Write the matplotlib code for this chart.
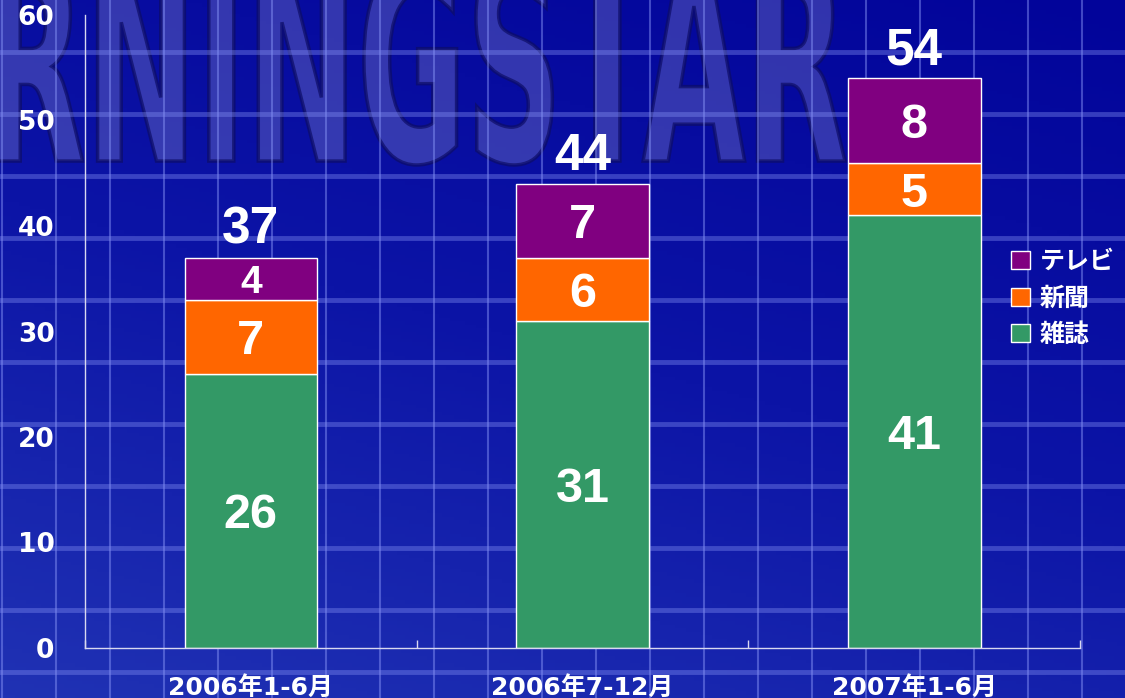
import numpy as np
import matplotlib
matplotlib.use("Agg")
import matplotlib.pyplot as plt
from matplotlib.textpath import TextPath
from matplotlib.patches import PathPatch, Patch
from matplotlib.font_manager import FontProperties
from matplotlib.transforms import Affine2D
from matplotlib.colors import LinearSegmentedColormap

# data
periods = ["2006年1-6月", "2006年7-12月", "2007年1-6月"]
zasshi = np.array([26, 31, 41])    # 雑誌
shinbun = np.array([7, 6, 5])      # 新聞
terebi = np.array([4, 7, 8])       # テレビ
yticks = [0, 10, 20, 30, 40, 50, 60]

c_zasshi, c_shinbun, c_terebi = "#339966", "#ff6600", "#800080"
cjk = ["DejaVu Sans", "Noto Sans CJK JP"]

W, H = 1125, 698
fig = plt.figure(figsize=(W / 100, H / 100), dpi=100)

### background: gradient, watermark, grid
bg = fig.add_axes([0, 0, 1, 1])
bg.set_xlim(0, W)
bg.set_ylim(0, H)
bg.axis("off")
yy, xx = np.mgrid[0:1:200j, 0:1:300j]
val = 0.7 * (1 - yy) + 0.3 * (1 - xx)
cm_bg = LinearSegmentedColormap.from_list("bg", ["#02049a", "#0c14a6", "#2032b4"])
bg.imshow(val, cmap=cm_bg, extent=[0, W, 0, H], origin="lower", aspect="auto", zorder=0)

fp = FontProperties(family="DejaVu Sans", weight="bold")
tp = TextPath((0, 0), "MORNINGSTAR", size=100, prop=fp)
ext = tp.get_extents()
tr = Affine2D().translate(-ext.x0, -ext.y0).scale(1095 / ext.width, 210 / ext.height).translate(-250, 533)
bg.add_patch(PathPatch(tr.transform_path(tp), fc=(0.58, 0.58, 0.82, 0.32),
                       ec=(0.05, 0.05, 0.4, 0.7), lw=2.5, zorder=1))

for xv in np.arange(2, W, 54):
    bg.axvline(xv, color=(0.55, 0.6, 0.98), alpha=0.45, lw=1.5, zorder=2)
for yv in np.arange(52, H, 62):
    bg.axhline(H - yv, color=(0.5, 0.55, 0.95), alpha=0.4, lw=3.5, zorder=2)

### chart
ax = fig.add_axes([85 / W, 50 / H, 995 / W, 633 / H])
ax.set_facecolor("none")
x = np.arange(len(periods))
bw = 0.4
ax.bar(x, zasshi, bw, color=c_zasshi, edgecolor="white", lw=1, label="雑誌")
ax.bar(x, shinbun, bw, bottom=zasshi, color=c_shinbun, edgecolor="white", lw=1, label="新聞")
ax.bar(x, terebi, bw, bottom=zasshi + shinbun, color=c_terebi, edgecolor="white", lw=1, label="テレビ")

bottoms = [np.zeros(3), zasshi, zasshi + shinbun]
for vals, bot in zip([zasshi, shinbun, terebi], bottoms):
    for xi, v, b in zip(x, vals, bot):
        fs = 28 if v < 5 else 35
        ax.annotate(str(v), (xi, b + v / 2), xytext=(0, -0.36 * fs), textcoords="offset points",
                    ha="center", va="baseline", color="white", fontsize=fs,
                    fontfamily="Liberation Sans", fontweight="bold")

totals = zasshi + shinbun + terebi
for xi, t in zip(x, totals):
    ax.annotate(str(t), (xi, t), xytext=(0, 10), textcoords="offset points",
                ha="center", va="baseline", color="white", fontsize=37,
                fontfamily="Liberation Sans", fontweight="bold")

ax.set_xlim(-0.5, 2.5)
ax.set_ylim(0, 60)
ax.set_yticks(yticks)
ax.set_yticklabels([str(v) for v in yticks], color="white", fontsize=19,
                   fontfamily="DejaVu Sans", fontweight="bold")
ax.tick_params(axis="y", length=0, pad=22)
ax.set_xticks([-0.5, 0.5, 1.5, 2.5])
ax.set_xticklabels([])
ax.tick_params(axis="x", which="major", direction="in", length=6, color="#d8d8f0", width=1)
ax.set_xticks(x, minor=True)
ax.set_xticklabels(periods, minor=True, color="white", fontsize=18, fontfamily=cjk, fontweight="bold")
ax.tick_params(axis="x", which="minor", length=0, pad=20)
for s in ["top", "right"]:
    ax.spines[s].set_visible(False)
for s in ["left", "bottom"]:
    ax.spines[s].set_color("#d8d8f0")
    ax.spines[s].set_linewidth(1)

handles = [Patch(fc=c_terebi, ec="white", lw=1, label="テレビ"),
           Patch(fc=c_shinbun, ec="white", lw=1, label="新聞"),
           Patch(fc=c_zasshi, ec="white", lw=1, label="雑誌")]
fig.legend(handles=handles, loc="upper left", bbox_to_anchor=(1011 / W, 1 - 250 / H),
           frameon=False, borderpad=0, borderaxespad=0, handlelength=0.75, handleheight=0.75,
           handletextpad=0.4, labelspacing=0.5, labelcolor="white",
           prop=FontProperties(family="Noto Sans CJK JP", weight="bold", size=18))

fig.savefig("out.png", dpi=100)
